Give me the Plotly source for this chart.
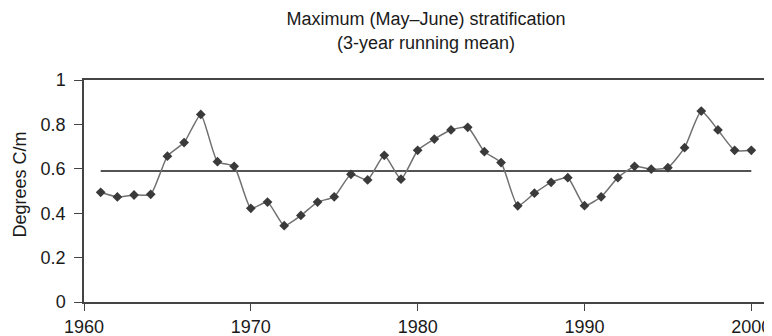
import plotly.graph_objects as go

# years of the 3-year running mean
years = list(range(1961, 2001))

# max (May-June) stratification, degrees C/m
strat = [0.494, 0.473, 0.482, 0.485, 0.657, 0.718, 0.845, 0.632, 0.611, 0.422,
         0.450, 0.344, 0.390, 0.450, 0.474, 0.575, 0.550, 0.661, 0.553, 0.683,
         0.734, 0.775, 0.787, 0.677, 0.628, 0.433, 0.490, 0.539, 0.560, 0.434,
         0.474, 0.560, 0.611, 0.598, 0.605, 0.695, 0.860, 0.775, 0.683, 0.683]

# long-term mean level (horizontal line)
mean_years = [1961, 2000]
mean_level = [0.59, 0.59]

x_ticks = [1960, 1970, 1980, 1990, 2000]
y_ticks = [0, 0.2, 0.4, 0.6, 0.8, 1]
y_tick_text = ['0', '0.2', '0.4', '0.6', '0.8', '1']

FONT = 'Liberation Sans, Arial, sans-serif'

fig = go.Figure()

fig.add_trace(go.Scatter(x=mean_years, y=mean_level, mode='lines',
                         line=dict(color='#1a1a1a', width=1.5),
                         hoverinfo='skip', showlegend=False))

fig.add_trace(go.Scatter(x=years, y=strat, mode='lines+markers',
                         line=dict(color='#707070', width=1.5,
                                   shape='spline', smoothing=0.5),
                         marker=dict(symbol='diamond', size=7.5, color='#3a3a3a'),
                         showlegend=False))

fig.update_xaxes(range=[1960, 2001], tickvals=x_ticks, ticks='outside',
                 ticklen=7, tickwidth=1.2, tickcolor='#444', ticklabelstandoff=1,
                 showline=True, linecolor='#444', linewidth=1.5, mirror=True,
                 showgrid=False, zeroline=False, automargin=False,
                 tickfont=dict(size=18, color='#1a1a1a'))

fig.update_yaxes(range=[0, 1], tickvals=y_ticks, ticktext=y_tick_text,
                 ticks='outside', ticklen=8, tickwidth=1.2, tickcolor='#444',
                 ticklabelstandoff=5, automargin=False,
                 showline=True, linecolor='#444', linewidth=1.5, mirror=True,
                 showgrid=False, zeroline=False,
                 tickfont=dict(size=18, color='#1a1a1a'))

fig.add_annotation(text='Degrees C/m', textangle=-90, xref='paper', yref='paper',
                   x=-0.094, y=0.528, xanchor='center', yanchor='middle',
                   showarrow=False,
                   font=dict(size=18, color='#1a1a1a', family=FONT))

# the page puts the figure 8px in from the top-left, margins allow for that
fig.update_layout(
    width=772, height=336,
    margin=dict(l=76, r=12, t=72, b=41.5),
    paper_bgcolor='white', plot_bgcolor='white',
    font=dict(family=FONT),
    title=dict(text='Maximum (May–June) stratification<br>(3-year running mean)',
               x=0.5, xref='paper', y=0.948, yanchor='top',
               font=dict(size=18, color='#1a1a1a')),
)

fig.write_html('out.html')
